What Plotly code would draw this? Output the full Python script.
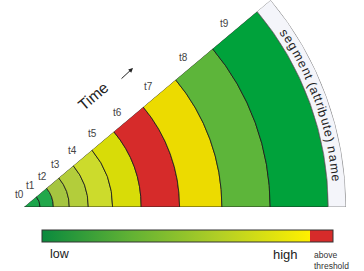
import math
import plotly.graph_objects as go

# ---------------- data ----------------
times = ["t0", "t1", "t2", "t3", "t4", "t5", "t6", "t7", "t8", "t9"]
ring_outer = [16.3, 29.8, 46.0, 65.3, 90.0, 119.0, 158.0, 201.0, 250.0, 309.0]
ring_colors = ["#1ba64b", "#22a84b", "#a5c540", "#b3cd3b", "#ccdb2c",
               "#d8dc08", "#d62b2a", "#ecdb00", "#5db53a", "#00a23b"]
band_outer = 327.0
band_label = "segment (attribute) name"
legend_low = "low"
legend_high = "high"
legend_above = "above<br>threshold"
threshold_frac = 268 / 291
gradient_colors = ["#0a8a3e", "#62b234", "#b3cf25", "#fff000"]
above_color = "#d62b2a"

# ---------------- geometry (layout only) ----------------
W, H = 364, 271
APEX_X, APEX_Y = 24, 207
R_PX = 322
SECTOR = 40
k = R_PX / band_outer
FONT = "Liberation Sans, Arial, sans-serif"


def to_px(r, th):
    a = math.radians(th)
    return APEX_X + k * r * math.cos(a), APEX_Y - k * r * math.sin(a)


def paper(px, py):
    return px / W, 1 - py / H


bases = [0] + ring_outer[:-1]
thick = [o - b for o, b in zip(ring_outer, bases)]

fig = go.Figure()
fig.add_trace(go.Barpolar(
    r=thick, base=bases, theta=[SECTOR / 2] * len(times), width=[SECTOR] * len(times),
    marker=dict(color=ring_colors, line=dict(color="#1a1a1a", width=0.8)),
    text=times, hoverinfo="text"))
fig.add_trace(go.Barpolar(
    r=[band_outer - ring_outer[-1]], base=[ring_outer[-1]], theta=[SECTOR / 2], width=[SECTOR],
    marker=dict(color="#f4f5fa", line=dict(color="#7a7a7a", width=0.8)),
    hoverinfo="skip"))

# colour legend (colorbar of an invisible trace)
f = threshold_frac
cs = [[0, gradient_colors[0]], [f / 3, gradient_colors[1]], [2 * f / 3, gradient_colors[2]],
      [f, gradient_colors[3]], [f, above_color], [1, above_color]]
cb_left, cb_right, cb_top = 42, 333, 230
fig.add_trace(go.Scatterpolar(
    r=[0], theta=[0], mode="markers", hoverinfo="skip",
    marker=dict(size=1, opacity=0, color=[0], cmin=0, cmax=1, colorscale=cs, showscale=True,
                colorbar=dict(orientation="h", x=((cb_left + cb_right) / 2) / W, xanchor="center",
                              y=1 - cb_top / H, yanchor="top", len=cb_right - cb_left,
                              lenmode="pixels", thickness=11.5, thicknessmode="pixels",
                              xpad=0, ypad=0, outlinewidth=1, outlinecolor="#333",
                              showticklabels=False, ticks="", borderwidth=0))))

annotations = []
# time labels at ring centres along the upper edge
for i, t in enumerate(times):
    rc = (bases[i] + ring_outer[i]) / 2
    px, py = to_px(rc, SECTOR)
    x, y = paper(px - 10.5, py - 7)
    annotations.append(dict(x=x, y=y, xref="paper", yref="paper", text=t, showarrow=False,
                            xanchor="center", yanchor="middle",
                            font=dict(family=FONT, size=10, color="#444")))

# "Time" with arrow
x, y = paper(92.5, 96)
annotations.append(dict(x=x, y=y, xref="paper", yref="paper", text="Time", showarrow=False,
                        textangle=-40, xanchor="center", yanchor="middle",
                        font=dict(family=FONT, size=15.5, color="#222")))
x, y = paper(133, 68)
annotations.append(dict(x=x, y=y, xref="paper", yref="paper", text="", showarrow=True,
                        ax=-13, ay=12, arrowhead=2, arrowsize=0.9, arrowwidth=1,
                        arrowcolor="#222"))

# curved segment name along the band
adv = {"s": 500, "e": 556, "g": 556, "m": 833, "n": 556, "t": 278, " ": 278, "(": 333,
       ")": 333, "a": 556, "r": 333, "i": 222, "b": 556, "u": 556}
ws = [adv.get(c, 556) for c in band_label]
centers = []
acc = 0
for w in ws:
    centers.append(acc + w / 2)
    acc += w
th_a, th_b = 33.8, 5.3
r_text = (ring_outer[-1] + band_outer) / 2
for c, s in zip(band_label, centers):
    if c == " ":
        continue
    th = th_a - (s - centers[0]) / (centers[-1] - centers[0]) * (th_a - th_b)
    px, py = to_px(r_text, th)
    x, y = paper(px, py)
    annotations.append(dict(x=x, y=y, xref="paper", yref="paper", text=c, showarrow=False,
                            textangle=90 - th, xanchor="center", yanchor="middle",
                            font=dict(family=FONT, size=12.5, color="#222")))

# legend labels
for txt, px, py, size, anchor in [(legend_low, 48, 254, 12.5, "left"),
                                  (legend_high, 300, 254, 13, "right")]:
    x, y = paper(px, py)
    annotations.append(dict(x=x, y=y, xref="paper", yref="paper", text=txt, showarrow=False,
                            xanchor=anchor, yanchor="middle",
                            font=dict(family=FONT, size=size, color="#222")))
x, y = paper(312, 260)
annotations.append(dict(x=x, y=y, xref="paper", yref="paper", text=legend_above,
                        showarrow=False, xanchor="left", yanchor="middle", align="left",
                        font=dict(family=FONT, size=8.5, color="#333")))

sx, sy0 = paper(cb_left + (cb_right - cb_left) * f, cb_top)
_, sy1 = paper(0, cb_top + 11.5)
shapes = [dict(type="line", xref="paper", yref="paper", x0=sx, x1=sx, y0=sy0, y1=sy1,
               line=dict(color="#333", width=1))]

fig.update_layout(
    width=W, height=H, margin=dict(l=0, r=0, t=0, b=0, autoexpand=False),
    paper_bgcolor="white", plot_bgcolor="white", showlegend=False,
    polar=dict(domain=dict(x=[APEX_X / W, (APEX_X + R_PX) / W], y=[1 - APEX_Y / H, 1]),
               sector=[0, SECTOR], hole=0, bgcolor="rgba(0,0,0,0)",
               radialaxis=dict(visible=False, range=[0, band_outer]),
               angularaxis=dict(visible=False)),
    annotations=annotations, shapes=shapes)

fig.write_html("out.html", config={"displayModeBar": False},
               post_script="document.body.style.margin='0';document.body.style.overflow='hidden';")
